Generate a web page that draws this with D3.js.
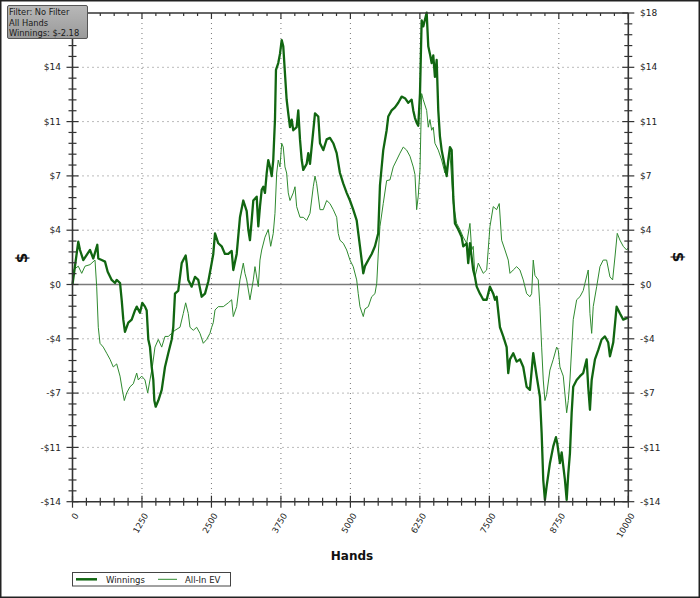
<!DOCTYPE html>
<html><head><meta charset="utf-8">
<script src="https://cdn.jsdelivr.net/npm/d3@7"></script>
<style>body{margin:0;background:#fff}svg{display:block}</style>
</head><body><svg id="c" width="700" height="598"></svg>
<script>
// ---- data ----
const winHands = [0,104,135,194,315,374,446,464,525,585,633,705,765,795,855,885,914,944,1004,1065,1124,1155,1214,1256,1304,1335,1364,1394,1425,1454,1472,1497,1544,1605,1664,1723,1785,1813,1844,1903,1965,1993,2036,2055,2083,2144,2204,2263,2324,2384,2443,2504,2533,2564,2623,2684,2743,2803,2864,2893,2954,3013,3073,3134,3163,3193,3224,3253,3314,3343,3373,3404,3433,3463,3494,3522,3553,3584,3612,3643,3661,3702,3733,3764,3792,3823,3853,3882,3913,3944,3972,4033,4062,4093,4124,4152,4213,4242,4273,4363,4422,4453,4512,4573,4632,4692,4753,4812,4872,4933,4992,5051,5113,5172,5232,5262,5322,5383,5442,5501,5532,5591,5652,5681,5742,5802,5861,5922,5982,6041,6102,6131,6162,6192,6221,6252,6282,6311,6372,6401,6431,6462,6491,6521,6552,6581,6611,6642,6701,6732,6761,6791,6822,6851,6881,6941,7002,7030,7092,7120,7151,7210,7241,7272,7331,7362,7390,7452,7511,7570,7601,7631,7691,7750,7811,7840,7871,7930,7991,8050,8110,8171,8230,8290,8351,8410,8441,8470,8500,8531,8590,8650,8698,8722,8770,8801,8860,8891,8920,8950,8981,9009,9071,9130,9189,9251,9279,9310,9341,9400,9459,9520,9580,9639,9670,9729,9790,9850,9909,9970,10000];
const winValues = [0,2.8,2.26,1.6,2.26,1.7,2.6,1.7,1.6,1.5,0.84,0.3,0.1,0.3,0.1,-1.0,-2.3,-3.1,-2.5,-2.3,-1.7,-1.45,-1.85,-1.2,-1.45,-1.7,-3.6,-4.1,-5.4,-6.25,-7.6,-8.0,-7.6,-6.9,-5.4,-4.5,-3.6,-2.8,-0.6,-0.4,1.4,1.6,1.9,1.4,0.3,-0.14,0.5,0.3,-0.8,-0.6,0.2,1.4,2.0,3.35,2.7,2.5,2.0,2.0,2.2,0.95,2.0,4.4,5.5,4.8,3.6,2.9,4.2,5.5,5.75,3.8,5.1,6.2,6.4,6.0,7.3,8.15,7.7,7.1,8.15,10.8,14.05,14.5,15.1,16.0,15.6,13.8,12.1,11.2,10.3,10.8,10.1,10.3,11.4,9.5,8.15,7.5,7.9,8.6,7.9,11.2,11.0,9.25,8.8,9.5,9.6,9.25,8.6,7.3,6.6,6.0,5.5,4.9,4.2,2.5,0.73,1.2,1.6,2.0,2.5,3.35,6.5,8.8,10.1,11.0,11.4,11.6,11.9,12.3,12.2,11.9,12.1,11.4,10.9,10.6,10.4,12.5,17.3,16.9,17.8,15.6,15.1,14.5,15.0,13.6,14.7,11.4,9.7,8.8,7.7,7.1,8.15,9.0,8.8,5.75,4.0,3.6,3.1,2.5,2.7,1.4,2.7,0.95,0.5,-0.14,-0.6,-0.8,-1.0,-1.0,-0.14,-0.6,-1.0,-0.8,-2.8,-3.4,-4.1,-5.8,-4.9,-4.5,-5.05,-4.9,-5.4,-6.7,-6.9,-4.5,-6.0,-7.35,-9.75,-12.8,-14.1,-13.2,-11.7,-10.6,-10.0,-10.4,-11.7,-11.0,-12.8,-14.1,-12.4,-11.05,-8.4,-6.7,-6.25,-6.0,-5.8,-4.9,-6.7,-8.2,-6.25,-4.9,-4.3,-3.6,-3.4,-3.8,-4.7,-3.8,-1.45,-1.9,-2.3,-2.2,-2.18];

const evHands = [0,14,104,166,225,315,405,435,464,495,554,615,675,734,795,855,896,932,975,1034,1094,1155,1184,1245,1304,1353,1394,1436,1484,1544,1605,1664,1723,1785,1844,1934,1993,2036,2083,2114,2173,2234,2294,2353,2414,2473,2504,2533,2564,2623,2713,2803,2864,2893,2954,3013,3073,3103,3134,3193,3253,3283,3343,3373,3404,3463,3522,3566,3612,3643,3674,3702,3733,3764,3792,3823,3853,3882,3913,3972,4003,4033,4093,4152,4213,4273,4332,4363,4393,4453,4512,4573,4632,4692,4753,4781,4812,4872,4933,4992,5051,5113,5141,5172,5232,5262,5322,5383,5442,5474,5501,5532,5591,5652,5712,5771,5832,5892,5951,6012,6072,6131,6162,6192,6221,6252,6282,6311,6372,6401,6431,6462,6491,6521,6581,6642,6701,6761,6791,6851,6912,6971,7030,7092,7151,7182,7210,7241,7301,7390,7452,7511,7570,7631,7678,7721,7781,7840,7871,7930,7991,8050,8110,8171,8230,8261,8290,8320,8380,8410,8441,8470,8500,8531,8590,8650,8711,8740,8770,8830,8891,8920,8950,9009,9071,9130,9189,9220,9279,9310,9341,9369,9431,9490,9549,9610,9670,9718,9760,9801,9850,9909,9970,10000];
const evValues = [0,0.95,1.2,0.73,1.2,1.3,1.6,-0.14,-2.8,-3.85,-4.1,-4.5,-4.9,-5.4,-5.2,-6.0,-6.9,-7.6,-7.1,-6.7,-6.5,-5.8,-6.25,-6.0,-6.25,-7.1,-6.25,-5.4,-4.1,-3.6,-4.1,-3.4,-3.4,-3.2,-3.0,-2.8,-1.9,-1.2,-1.9,-2.8,-3.0,-2.8,-3.2,-3.85,-3.6,-3.2,-2.8,-2.5,-1.67,-1.45,-1.45,-1.2,-1.0,-2.1,-1.45,0.3,1.4,0.73,0.3,-1.0,0.3,1.17,-0.14,1.6,2.26,3.1,3.6,2.5,3.35,4.66,7.3,8.15,7.7,9.25,9.0,7.7,7.3,6.0,5.5,6.0,6.4,5.1,4.4,4.4,4.2,4.66,6.4,7.1,6.6,4.9,4.9,5.5,5.3,4.9,4.4,3.35,2.9,2.7,2.26,1.6,1.17,0.3,-0.6,-1.45,-2.1,-1.6,-1.45,-0.8,-0.6,0.08,2.0,3.8,5.3,6.8,6.85,7.7,8.15,8.6,9.0,8.8,8.4,7.7,7.2,4.9,5.8,7.5,12.5,12.1,11.4,10.3,10.8,10.1,10.3,9.25,8.8,8.15,7.3,8.0,8.6,5.3,4.0,3.6,3.1,2.7,4.0,2.26,2.5,0.5,1.4,0.73,0.95,3.8,5.1,4.9,5.3,2.9,2.26,1.6,0.73,0.95,1.17,0.95,0.3,-0.6,-0.8,-0.6,1.6,0.6,0.3,-1.45,-4.1,-6.25,-7.6,-7.2,-5.6,-4.9,-4.1,-4.3,-5.4,-6.0,-8.4,-7.6,-6.25,-2.3,-1.0,-0.8,-0.4,0.08,0.95,-1.9,-3.2,-1.45,-0.14,1.17,1.6,1.6,0.5,0.3,1.8,3.35,2.9,2.5,2.26,2.4];

const xTickValues = [0,1250,2500,3750,5000,6250,7500,8750,10000];
const xTickLabels = ["0","1250","2500","3750","5000","6250","7500","8750","10000"];
const yTickLabels = ["-$14","-$11","-$7","-$4","$0","$4","$7","$11","$14","$18"];
const yStep = 32/9;
const yTickValues = d3.range(-4, 6).map(k => k * yStep);
const seriesNames = ["Winnings", "All-In EV"];
const infoLines = ["Filter: No Filter", "All Hands", "Winnings: $-2.18"];

// ---- drawing ----
const svg = d3.select("#c");
const L = 72.5, R = 628.3, T = 13, B = 501.7;
const x = d3.scaleLinear().domain([0, 10000]).range([L, R]);
const y = d3.scaleLinear().domain([yTickValues[0], yTickValues[yTickValues.length-1]]).range([B, T]);
const FONT = "DejaVu Sans, Verdana, sans-serif";

svg.append("rect").attr("x",0.75).attr("y",0.75).attr("width",698.5).attr("height",596.5)
  .attr("fill","#fff").attr("stroke","#222").attr("stroke-width",1.5);

// grid
const g = svg.append("g");
g.selectAll(".vg").data(xTickValues.slice(1,-1)).join("line")
  .attr("x1",d=>x(d)).attr("x2",d=>x(d)).attr("y1",T).attr("y2",B)
  .attr("stroke","#777").attr("stroke-width",1).attr("stroke-dasharray","1,4");
g.selectAll(".hg").data(yTickValues.slice(1,-1).filter((d,i)=>yTickLabels[i+1]!=="$0")).join("line")
  .attr("x1",L).attr("x2",R).attr("y1",d=>y(d)).attr("y2",d=>y(d))
  .attr("stroke","#777").attr("stroke-width",1).attr("stroke-dasharray","1,4");
// zero line
g.append("line").attr("x1",L).attr("x2",R).attr("y1",y(0)).attr("y2",y(0))
  .attr("stroke","#7a7a7a").attr("stroke-width",1.7);

// series
const winData = winHands.map((h,i)=>[h, winValues[i]]);
const evData = evHands.map((h,i)=>[h, evValues[i]]);
const line = d3.line().x(d=>x(d[0])).y(d=>y(d[1]));
svg.append("path").datum(evData).attr("d",line).attr("fill","none")
  .attr("stroke","#2f8a2f").attr("stroke-width",1).attr("stroke-linejoin","round");
svg.append("path").datum(winData).attr("d",line).attr("fill","none")
  .attr("stroke","#116611").attr("stroke-width",2.3).attr("stroke-linejoin","round");

// axes
const axC = "#333";
const ax = svg.append("g").attr("stroke",axC);
ax.append("line").attr("x1",L).attr("x2",R).attr("y1",B).attr("y2",B).attr("stroke-width",1.6);
ax.append("line").attr("x1",L).attr("x2",R).attr("y1",T).attr("y2",T).attr("stroke-width",1.6);
ax.append("line").attr("x1",L).attr("x2",L).attr("y1",T).attr("y2",B).attr("stroke-width",1.6);
ax.append("line").attr("x1",R).attr("x2",R).attr("y1",T).attr("y2",B).attr("stroke-width",1.6);

const xMinor = d3.range(0, 10001, 250);
const yMinor = d3.range(0, 46).map(k => yTickValues[0] + k*yStep/5);
const isMajX = d => d % 1250 === 0;
const isMajY = (d) => Math.abs(((d - yTickValues[0]) / yStep) - Math.round((d - yTickValues[0]) / yStep)) < 1e-6;

ax.selectAll(".bt").data(xMinor).join("line")
  .attr("x1",d=>x(d)).attr("x2",d=>x(d))
  .attr("y1",d=>B-(isMajX(d)?6:4)).attr("y2",d=>B+(isMajX(d)?6:4)).attr("stroke-width",1.2);
ax.selectAll(".tt").data(xMinor).join("line")
  .attr("x1",d=>x(d)).attr("x2",d=>x(d))
  .attr("y1",T).attr("y2",d=>T+(isMajX(d)?6:3)).attr("stroke-width",1.2);
ax.selectAll(".lt").data(yMinor).join("line")
  .attr("y1",d=>y(d)).attr("y2",d=>y(d))
  .attr("x1",d=>L-(isMajY(d)?6:4)).attr("x2",d=>L+(isMajY(d)?6:4)).attr("stroke-width",1.2);
ax.selectAll(".rt").data(yMinor).join("line")
  .attr("y1",d=>y(d)).attr("y2",d=>y(d))
  .attr("x1",d=>R-(isMajY(d)?6:4)).attr("x2",d=>R+(isMajY(d)?6:4)).attr("stroke-width",1.2);

// y labels (left top label is hidden under the info box in the original)
svg.selectAll(".yl").data(yTickValues.slice(0,-1)).join("text")
  .attr("x",61).attr("y",d=>y(d)).attr("dy","0.35em").attr("text-anchor","end")
  .attr("font-family",FONT).attr("font-size",9).attr("fill","#222")
  .text((d,i)=>yTickLabels[i]);
svg.selectAll(".yr").data(yTickValues).join("text")
  .attr("x",640).attr("y",d=>y(d)).attr("dy","0.35em").attr("text-anchor","start")
  .attr("font-family",FONT).attr("font-size",9).attr("fill","#222")
  .text((d,i)=>yTickLabels[i]);
// x labels
svg.selectAll(".xl").data(xTickValues).join("text")
  .attr("transform",d=>`translate(${x(d)+4},${B+12}) rotate(-60)`)
  .attr("dy","0.35em").attr("text-anchor","end")
  .attr("font-family",FONT).attr("font-size",8.5).attr("fill","#222")
  .text((d,i)=>xTickLabels[i]);

// titles
svg.append("text").attr("x",352).attr("y",560).attr("text-anchor","middle")
  .attr("font-family",FONT).attr("font-weight","bold").attr("font-size",12).attr("fill","#111").text("Hands");
svg.append("text").attr("transform","translate(22,258) rotate(-90)").attr("text-anchor","middle").attr("dy","0.35em")
  .attr("font-family",FONT).attr("font-weight","bold").attr("font-size",15).attr("fill","#111").text("$");
svg.append("text").attr("transform","translate(678,257) rotate(90)").attr("text-anchor","middle").attr("dy","0.35em")
  .attr("font-family",FONT).attr("font-weight","bold").attr("font-size",15).attr("fill","#111").text("$");

// info box
const defs = svg.append("defs");
const gr = defs.append("linearGradient").attr("id","gb").attr("x1",0).attr("x2",0).attr("y1",0).attr("y2",1);
gr.append("stop").attr("offset","0").attr("stop-color","#b8b8b8");
gr.append("stop").attr("offset","1").attr("stop-color","#9a9a9a");
svg.append("rect").attr("x",7.5).attr("y",5.5).attr("width",80).attr("height",33).attr("rx",1.5)
  .attr("fill","url(#gb)").attr("stroke","#555").attr("stroke-width",1);
svg.selectAll(".info").data(infoLines).join("text")
  .attr("x",9).attr("y",(d,i)=>15+i*10.5)
  .attr("font-family",FONT).attr("font-size",8.3).attr("fill","#1a1a1a").text(d=>d);

// legend
const lg = svg.append("g");
lg.append("rect").attr("x",72.5).attr("y",572.5).attr("width",158).attr("height",13.5)
  .attr("fill","#fff").attr("stroke","#444").attr("stroke-width",1);
const legStyles = [{x0:76,x1:97,tx:106,w:2.5,c:"#116611"},{x0:158,x1:177,tx:185,w:1,c:"#2f8a2f"}];
lg.selectAll(".ll").data(seriesNames).join("line")
  .attr("x1",(d,i)=>legStyles[i].x0).attr("x2",(d,i)=>legStyles[i].x1)
  .attr("y1",579.3).attr("y2",579.3)
  .attr("stroke",(d,i)=>legStyles[i].c).attr("stroke-width",(d,i)=>legStyles[i].w);
lg.selectAll(".lt").data(seriesNames).join("text")
  .attr("x",(d,i)=>legStyles[i].tx).attr("y",582.5)
  .attr("font-family",FONT).attr("font-size",8.5).attr("fill","#222").text(d=>d);
</script></body></html>
